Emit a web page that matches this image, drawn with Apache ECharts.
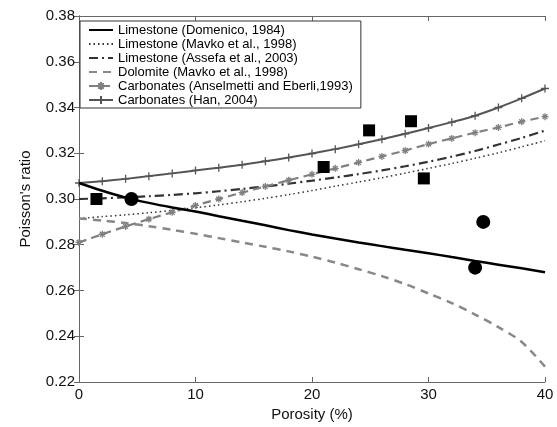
<!DOCTYPE html>
<html>
<head>
<meta charset="utf-8">
<script src="https://cdn.jsdelivr.net/npm/echarts@6/dist/echarts.min.js"></script>
<style>
html,body{margin:0;padding:0;background:#fff;}
#c{width:557px;height:427px;}
</style>
</head>
<body>
<div id="c"></div>
<script>
// Porosity grid (%)
var porosity = [0,2,4,6,8,10,12,14,16,18,20,22,24,26,28,30,32,34,36,38,40];
// Poisson's ratio curves
var domenico  = [0.3070,0.3036,0.3006,0.2983,0.2963,0.2945,0.2925,0.2905,0.2885,0.2864,0.2845,0.2827,0.2810,0.2794,0.2778,0.2763,0.2746,0.2729,0.2713,0.2697,0.2680];
var mavkoLime = [0.2915,0.2923,0.2931,0.2940,0.2950,0.2962,0.2974,0.2988,0.3003,0.3019,0.3037,0.3056,0.3074,0.3093,0.3113,0.3134,0.3155,0.3178,0.3202,0.3228,0.3255];
var assefa    = [0.3000,0.3003,0.3007,0.3012,0.3018,0.3025,0.3034,0.3044,0.3055,0.3067,0.3080,0.3094,0.3109,0.3125,0.3143,0.3163,0.3185,0.3210,0.3238,0.3267,0.3299];
var dolomite  = [0.2915,0.2906,0.2895,0.2881,0.2865,0.2848,0.2829,0.2810,0.2791,0.2771,0.2748,0.2722,0.2693,0.2663,0.2628,0.2587,0.2545,0.2495,0.2440,0.2375,0.2267];
var anselmetti= [0.2810,0.2846,0.2880,0.2912,0.2942,0.2972,0.3000,0.3028,0.3055,0.3082,0.3108,0.3134,0.3160,0.3186,0.3212,0.3240,0.3265,0.3290,0.3313,0.3338,0.3360];
var han       = [0.3070,0.3078,0.3088,0.3100,0.3112,0.3125,0.3137,0.3150,0.3165,0.3181,0.3199,0.3218,0.3239,0.3261,0.3285,0.3310,0.3336,0.3364,0.3400,0.3440,0.3483];
// Measured points
var squaresX = [1.5, 21.0, 24.9, 28.5, 29.6];
var squaresY = [0.300, 0.314, 0.330, 0.334, 0.309];
var circlesX = [4.5, 34.0, 34.7];
var circlesY = [0.300, 0.270, 0.290];
// Legend labels
var names = ['Limestone (Domenico, 1984)','Limestone (Mavko et al., 1998)','Limestone (Assefa et al., 2003)','Dolomite (Mavko et al., 1998)','Carbonates (Anselmetti and Eberli,1993)','Carbonates (Han, 2004)'];

function pairs(xs, ys){ return xs.map(function(x,i){return [x, ys[i]];}); }

var chart = echarts.init(document.getElementById('c'));
var FONT = '"Liberation Sans", Arial, sans-serif';
var axisCol = '#666';
var asterisk = 'path://M0,5L10,5M5,0L5,10M1.5,1.5L8.5,8.5M8.5,1.5L1.5,8.5';
var plus = 'path://M0,5L10,5M5,0L5,10';
var clear = 'rgba(0,0,0,0)';

chart.setOption({
  animation:false,
  backgroundColor:'#fff',
  grid:{left:79, right:12, top:16, bottom:45},
  legend:{
    data:names, orient:'vertical', left:80, top:21,
    itemWidth:24, itemHeight:10, itemGap:0,
    padding:[2,8,1,8],
    borderColor:'#333', borderWidth:1, backgroundColor:'#fff',
    textStyle:{fontFamily:FONT, fontSize:13, lineHeight:14, color:'#000'}
  },
  xAxis:[{
    type:'value', min:0, max:40, interval:10,
    name:'Porosity (%)', nameLocation:'middle', nameGap:25,
    nameTextStyle:{fontFamily:FONT, fontSize:15, color:'#111'},
    axisLine:{lineStyle:{color:axisCol}},
    axisTick:{inside:true, length:5, lineStyle:{color:axisCol}},
    axisLabel:{fontFamily:FONT, fontSize:15, color:'#111', margin:5},
    splitLine:{show:false}
  },{
    type:'value', position:'top', min:0, max:40, interval:10,
    axisLine:{show:true, lineStyle:{color:axisCol}},
    axisTick:{inside:true, length:5, lineStyle:{color:axisCol}},
    axisLabel:{show:false}, splitLine:{show:false}
  }],
  yAxis:[{
    type:'value', min:0.22, max:0.38, interval:0.02,
    name:"Poisson's ratio", nameLocation:'middle', nameGap:46,
    nameTextStyle:{fontFamily:FONT, fontSize:15, color:'#111'},
    axisLine:{show:true, lineStyle:{color:axisCol}},
    axisTick:{show:true, inside:true, length:5, lineStyle:{color:axisCol}},
    axisLabel:{fontFamily:FONT, fontSize:15, color:'#111', margin:4, formatter:function(v){return v.toFixed(2);}},
    splitLine:{show:false}
  },{
    type:'value', position:'right', min:0.22, max:0.38, interval:0.02,
    axisLine:{show:true, lineStyle:{color:axisCol}},
    axisTick:{show:true, inside:true, length:5, lineStyle:{color:axisCol}},
    axisLabel:{show:false}, splitLine:{show:false}
  }],
  series:[
    {name:names[0], type:'line', data:pairs(porosity,domenico), showSymbol:false, symbol:'circle', smooth:0.3,
      lineStyle:{color:'#000', width:2.5}, itemStyle:{color:clear, borderWidth:0}, z:5},
    {name:names[1], type:'line', data:pairs(porosity,mavkoLime), showSymbol:false, symbol:'circle', smooth:0.3,
      lineStyle:{color:'#333', width:1.5, type:[1.5,3]}, itemStyle:{color:clear, borderWidth:0}},
    {name:names[2], type:'line', data:pairs(porosity,assefa), showSymbol:false, symbol:'circle', smooth:0.3,
      lineStyle:{color:'#333', width:2.2, type:[9,4,2,4]}, itemStyle:{color:clear, borderWidth:0}},
    {name:names[3], type:'line', data:pairs(porosity,dolomite), showSymbol:false, symbol:'circle', smooth:0.3,
      lineStyle:{color:'#888', width:2.5, type:[8,6]}, itemStyle:{color:clear, borderWidth:0}},
    {name:names[4], type:'line', data:pairs(porosity,anselmetti), symbol:asterisk, symbolSize:7, smooth:0.3,
      lineStyle:{color:'#808080', width:2.2, type:[8,5]}, itemStyle:{color:'none', borderColor:'#808080', borderWidth:1.3}},
    {name:names[5], type:'line', data:pairs(porosity,han), symbol:plus, symbolSize:8, smooth:0.3,
      lineStyle:{color:'#555', width:2}, itemStyle:{color:'none', borderColor:'#555', borderWidth:1.3}},
    {name:'squares', type:'scatter', data:pairs(squaresX,squaresY), symbol:'rect', symbolSize:12,
      itemStyle:{color:'#000', opacity:1}, z:10},
    {name:'circles', type:'scatter', data:pairs(circlesX,circlesY), symbol:'circle', symbolSize:14,
      itemStyle:{color:'#000', opacity:1}, z:10}
  ]
});
</script>
</body>
</html>
